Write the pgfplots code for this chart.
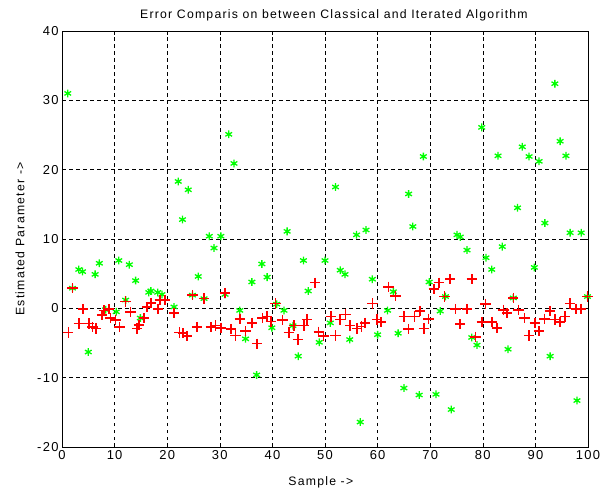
\documentclass[border=0pt]{standalone}
\usepackage{pgfplots}
\pgfplotsset{compat=1.18}
\usepackage{fontspec}
\setmainfont{Liberation Sans}[LetterSpace=10]
\definecolor{mgreen}{RGB}{0,255,0}
\definecolor{mred}{RGB}{255,0,0}
\begin{document}
\begin{tikzpicture}
\begin{axis}[
  at={(0,0)}, anchor=south west,
  scale only axis, width=526bp, height=416bp,
  xmin=0, xmax=100, ymin=-20, ymax=40,
  xtick={0,10,...,100}, ytick={-20,-10,...,40},
  /pgf/number format/assume math mode=true,
  tick label style={font=\fontsize{13}{15}\selectfont},
  grid=major,
  major grid style={black, line width=0.6pt, dash pattern=on 3.5bp off 3.5bp},
  axis line style={black, line width=0.8pt},
  tick align=inside, major tick length=4bp,
  tick style={black, line width=0.6pt},
  title={Error Comparis on between Classical and Iterated Algorithm},
  xlabel={Sample ->}, ylabel={Estimated Parameter ->},
  every axis title/.style={at={(axis description cs:0.517,1.0385)}, anchor=center, font=\fontsize{12.3}{14}\selectfont},
  every axis x label/.style={at={(axis description cs:0.492,-0.0841)}, anchor=center, font=\fontsize{12.3}{14}\selectfont},
  every axis y label/.style={at={(axis description cs:-0.0798,0.5)}, anchor=center, rotate=90, font=\fontsize{12.3}{14}\selectfont},
]
\addplot[only marks, color=mgreen, mark=asterisk, mark size=3.9pt, mark options={draw=mgreen, solid, line width=1.3pt}] coordinates {
(1.1,31.0) (2.0,2.9) (3.2,5.6) (3.9,5.3) (5.0,-6.3) (6.3,4.9) (7.1,6.5) (8.3,-0.2)
(10.3,-0.5) (10.8,6.9) (12.1,1.2) (12.8,6.3) (14.0,4.0) (14.9,-1.4) (16.5,2.3) (16.9,2.5)
(18.2,2.3) (19.0,2.0) (21.3,0.2) (22.1,18.3) (22.9,12.8) (24.0,17.1) (24.8,1.9) (25.9,4.6)
(27.0,1.4) (28.0,10.4) (28.9,8.7) (30.2,10.4) (31.0,2.0) (31.7,25.1) (32.7,20.9) (33.8,-0.3)
(34.9,-4.4) (36.1,3.8) (37.0,-9.6) (38.0,6.4) (39.0,4.5) (39.9,-2.8) (40.8,0.6) (42.2,-0.3)
(42.8,11.1) (43.9,-2.5) (44.9,-6.9) (45.9,6.9) (46.8,2.5) (48.9,-4.9) (50.0,6.9) (51.0,-2.1)
(52.0,17.5) (52.9,5.5) (53.8,4.9) (54.7,-4.5) (56.0,10.6) (56.7,-16.4) (57.8,11.3) (59.0,4.2)
(60.0,-3.8) (61.9,-0.3) (63.0,2.4) (63.9,-3.6) (65.0,-11.5) (65.9,16.5) (66.7,11.8) (67.9,-12.5)
(68.7,21.9) (69.8,3.8) (71.1,-12.4) (71.9,-0.4) (72.9,1.7) (74.0,-14.6) (75.1,10.6) (75.7,10.3)
(77.0,8.4) (77.9,-4.2) (78.9,-5.3) (79.8,26.1) (80.6,7.3) (81.7,5.6) (82.9,22.0) (83.7,8.9)
(84.8,-5.9) (85.8,1.5) (86.6,14.5) (87.5,23.3) (88.8,21.9) (89.8,5.9) (90.7,21.2) (91.8,12.3)
(92.8,-6.9) (93.7,32.4) (94.7,24.1) (95.8,22.0) (96.6,10.9) (97.9,-13.3) (98.7,10.9) (99.9,1.7)
};
\addplot[only marks, color=mred, mark=+, mark size=5.2pt, mark options={draw=mred, solid, line width=1.6pt}] coordinates {
(1.2,-3.5) (2.0,2.9) (3.2,-2.2) (4.0,-0.1) (5.1,-2.2) (5.8,-2.7) (6.5,-2.9) (7.6,-1.0)
(8.0,-0.3) (8.9,-0.1) (9.2,-1.4) (10.2,-1.7) (10.9,-2.7) (12.1,1.0) (13.0,-0.5) (14.3,-2.9)
(14.6,-2.4) (15.6,-1.4) (16.2,0.2) (16.9,0.8) (18.2,-0.1) (18.6,1.2) (19.6,1.2) (21.3,-0.7)
(22.3,-3.5) (23.0,-3.6) (23.8,-4.0) (24.8,1.9) (25.7,-2.7) (27.0,1.4) (28.3,-2.7) (29.2,-2.5)
(30.2,-2.8) (31.0,2.2) (32.1,-3.0) (33.0,-3.9) (33.8,-1.5) (34.9,-3.3) (36.1,-2.1) (37.1,-5.1)
(38.1,-1.4) (39.0,-1.2) (39.7,-1.9) (40.6,0.7) (41.9,-1.7) (43.1,-3.5) (44.1,-2.5) (44.9,-4.5)
(46.0,-2.5) (46.6,-1.6) (48.1,3.7) (48.8,-3.4) (49.7,-4.0) (51.1,-1.2) (52.0,-3.9) (52.9,-1.6)
(53.9,-0.9) (54.8,-2.5) (56.1,-2.9) (56.9,-2.6) (57.6,-2.1) (59.0,0.7) (59.9,-1.6) (60.7,-2.0)
(62.1,3.1) (63.4,1.8) (65.0,-1.2) (65.9,-3.0) (67.0,-1.2) (68.1,-0.4) (68.8,-2.9) (69.7,-1.5)
(70.7,2.8) (71.7,3.7) (72.7,1.7) (73.8,4.2) (74.8,-0.1) (75.7,-2.3) (77.0,-0.1) (77.9,4.2)
(78.6,-4.1) (79.8,-2.0) (80.5,0.6) (81.7,-2.0) (82.7,-2.8) (83.9,-0.2) (84.6,-0.7) (85.8,1.5)
(86.8,-0.2) (87.9,-1.4) (88.8,-3.9) (89.9,-2.1) (90.7,-3.3) (91.7,-1.5) (92.8,-0.4) (93.7,-1.6)
(94.7,-2.0) (95.6,-1.2) (96.6,0.7) (97.7,-0.1) (98.7,-0.1) (99.9,1.7)
};
\end{axis}
\pgfresetboundingbox
\path (-62bp,-49bp) rectangle (538bp,447bp);
\end{tikzpicture}
\end{document}
